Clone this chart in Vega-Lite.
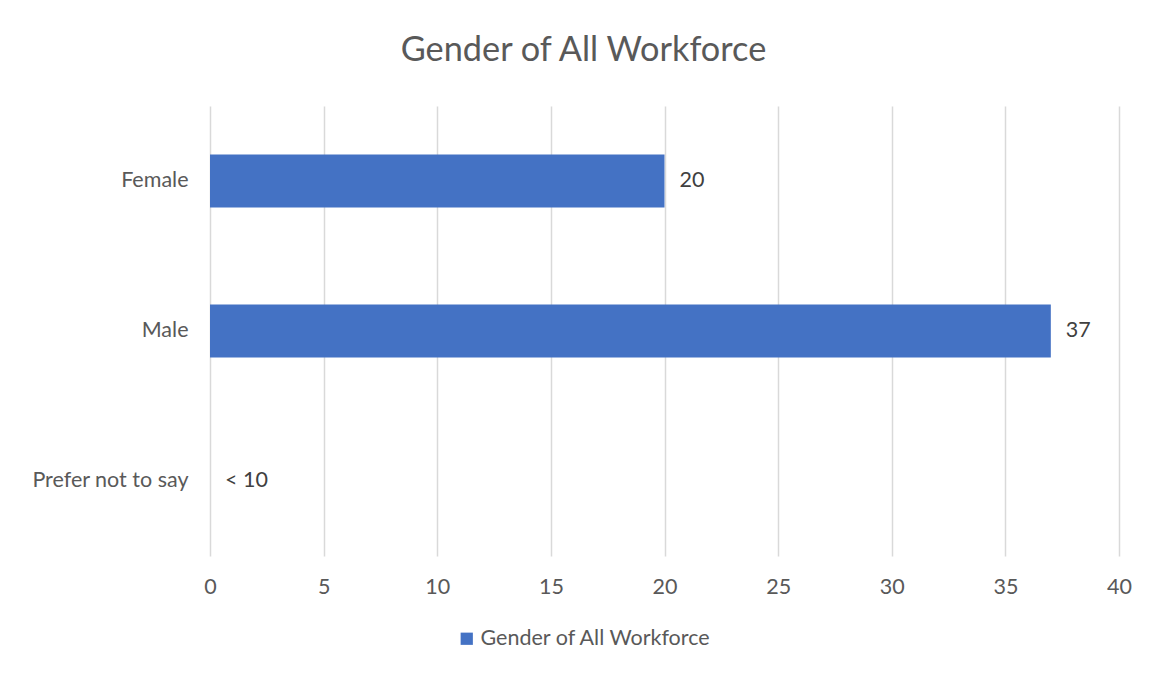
{
  "$schema": "https://vega.github.io/schema/vega-lite/v6.json",
  "autosize": {"type": "none"},
  "padding": {"left": 210, "top": 106, "right": 35, "bottom": 119},
  "width": 909,
  "height": 450,
  "background": "white",
  "title": {"text": "Gender of All Workforce", "fontSize": 34.3, "font": "Lato", "fontWeight": "normal", "color": "#595959", "offset": 38, "anchor": "middle", "dx": -81},
  "data": {"values": [
    {"gender": "Female", "count": 20, "label": "20", "series": "Gender of All Workforce"},
    {"gender": "Male", "count": 37, "label": "37", "series": "Gender of All Workforce"},
    {"gender": "Prefer not to say", "count": 0, "label": "< 10", "series": "Gender of All Workforce"}
  ]},
  "encoding": {
    "y": {"field": "gender", "type": "nominal", "sort": ["Female", "Male", "Prefer not to say"],
      "scale": {"paddingInner": 0.647, "paddingOuter": 0.3235},
      "axis": {"title": null, "domain": false, "ticks": false, "labelPadding": 22, "labelFontSize": 21.5, "labelFont": "Lato", "labelColor": "#595959"}},
    "x": {"field": "count", "type": "quantitative", "scale": {"domain": [0, 40], "nice": false},
      "axis": {"title": null, "values": [0, 5, 10, 15, 20, 25, 30, 35, 40], "domain": false, "ticks": false, "labelFlush": false, "labelPadding": 20, "labelFontSize": 21.5, "labelFont": "Lato", "labelColor": "#595959", "gridColor": "#d9d9d9", "gridWidth": 1.5}}
  },
  "layer": [
    {"mark": {"type": "bar"},
     "encoding": {"color": {"field": "series", "type": "nominal", "scale": {"range": ["#4472C4"]},
       "legend": {"title": null, "orient": "none", "legendX": 246, "legendY": 522, "symbolType": "square", "symbolSize": 150, "symbolStrokeWidth": 0, "labelFontSize": 21.5, "labelFont": "Lato", "labelColor": "#595959", "labelOffset": 3, "labelLimit": 400}}}},
    {"mark": {"type": "text", "align": "left", "dx": 15, "fontSize": 21.5, "font": "Lato", "color": "#404040"},
     "encoding": {"text": {"field": "label"}}}
  ],
  "config": {"view": {"stroke": null}}
}
